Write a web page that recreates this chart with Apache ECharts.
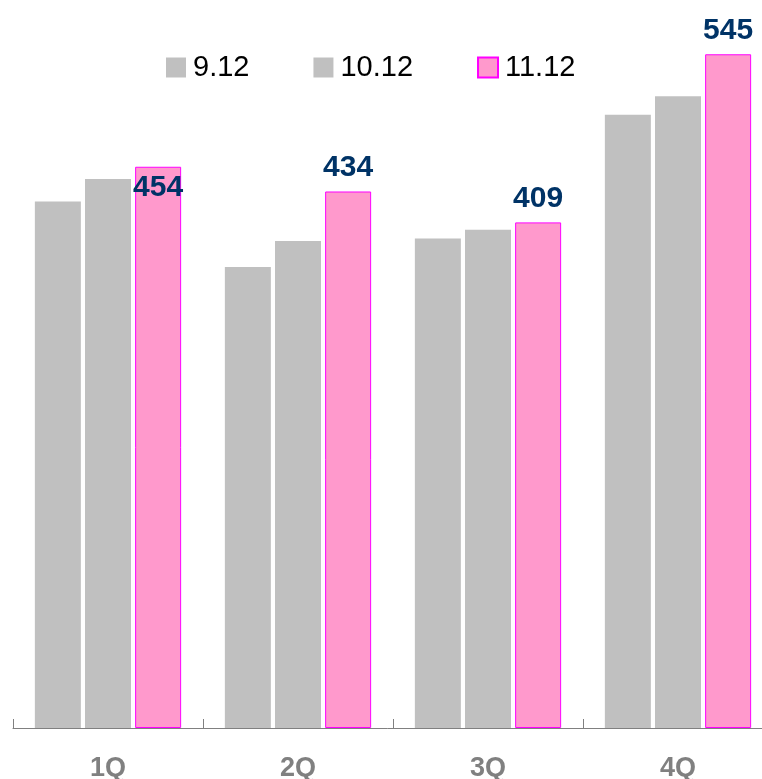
<!DOCTYPE html>
<html>
<head>
<meta charset="utf-8">
<script src="https://cdn.jsdelivr.net/npm/echarts@6/dist/echarts.min.js"></script>
<style>
  html, body { margin: 0; padding: 0; background: #fff; }
  #main { width: 762px; height: 779px; }
</style>
</head>
<body>
<div id="main"></div>
<script>
// 四半期ごとの数値
var quarters = ['1Q', '2Q', '3Q', '4Q'];
var seriesNames = ['9.12', '10.12', '11.12'];
var data912 = [426, 373, 396, 496];
var data1012 = [444, 394, 403, 511];
var data1112 = [454, 434, 409, 545];

var myChart = echarts.init(document.getElementById('main'));

// 1Qのラベルだけ棒の中に入っている
var pinkData = data1112.map(function (v, i) {
  if (i === 0) {
    return { value: v, label: { position: 'insideTop', distance: 6 } };
  }
  return v;
});

var option = {
  animation: false,
  legend: {
    left: 166,
    top: 53,
    padding: 0,
    itemWidth: 20,
    itemHeight: 20,
    itemGap: 64,
    textStyle: {
      fontFamily: 'Liberation Sans',
      fontSize: 29,
      color: '#000',
      padding: [0, 0, 0, 2]
    },
    data: [
      { name: seriesNames[0], icon: 'rect' },
      { name: seriesNames[1], icon: 'rect' },
      { name: seriesNames[2], icon: 'rect' }
    ]
  },
  grid: {
    left: 13,
    width: 760,
    top: 11,
    height: 717,
    outerBoundsMode: 'none'
  },
  xAxis: {
    type: 'category',
    data: quarters,
    axisLine: { lineStyle: { color: '#808080', width: 1 } },
    axisTick: { show: true, inside: true, length: 9, lineStyle: { color: '#808080', width: 1 } },
    axisLabel: {
      margin: 27,
      fontFamily: 'Liberation Sans',
      fontWeight: 'bold',
      fontSize: 27,
      color: '#808080'
    }
  },
  yAxis: {
    type: 'value',
    min: 0,
    max: 580,
    show: false,
    splitLine: { show: false }
  },
  series: [
    {
      name: seriesNames[0],
      type: 'bar',
      barWidth: 46,
      barGap: '9%',
      itemStyle: { color: '#c0c0c0' },
      data: data912
    },
    {
      name: seriesNames[1],
      type: 'bar',
      barWidth: 46,
      barGap: '9%',
      itemStyle: { color: '#c0c0c0' },
      data: data1012
    },
    {
      name: seriesNames[2],
      type: 'bar',
      barWidth: 46,
      barGap: '9%',
      itemStyle: { color: '#ff99cc', borderColor: '#ff00ff', borderWidth: 1 },
      label: {
        show: true,
        position: 'top',
        distance: 9,
        fontFamily: 'Liberation Sans',
        fontWeight: 'bold',
        fontSize: 30,
        color: '#003366'
      },
      data: pinkData
    }
  ]
};

myChart.setOption(option);
</script>
</body>
</html>
